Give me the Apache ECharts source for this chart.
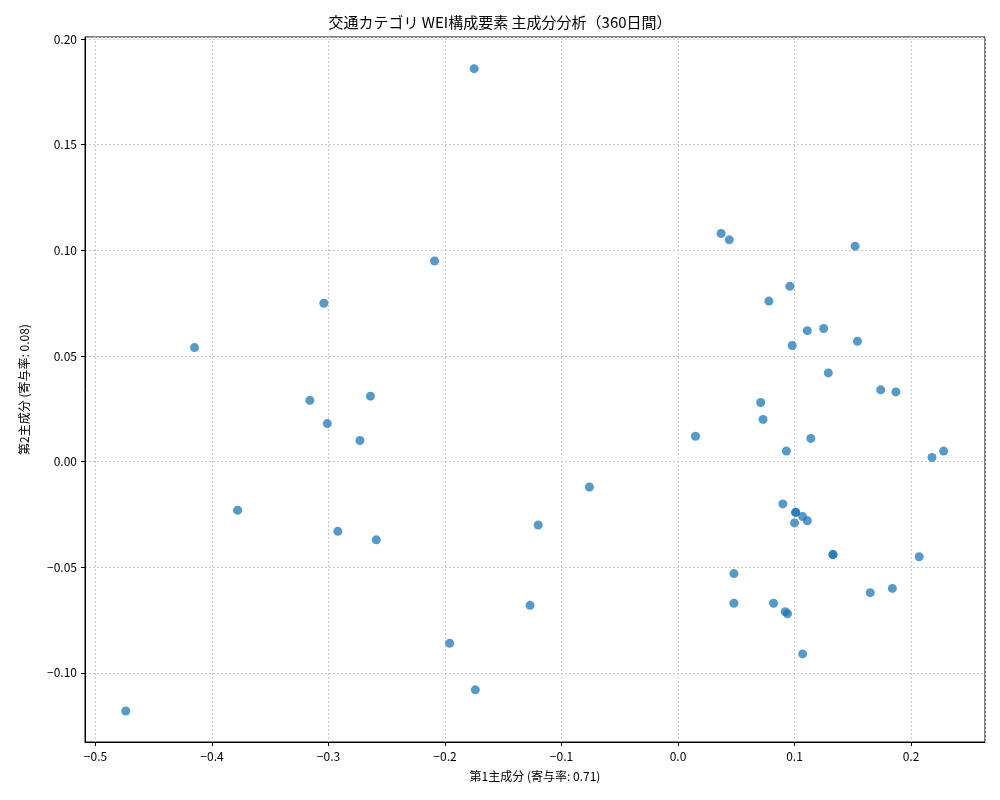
<!DOCTYPE html>
<html><head><meta charset="utf-8">
<script src="https://cdn.jsdelivr.net/npm/echarts@6/dist/echarts.min.js"></script>
<style>html,body{margin:0;background:#fff}#c{width:1000px;height:800px}</style>
</head><body><div id="c"></div>
<script>
const pc1 = [-0.175,-0.209,-0.304,-0.415,-0.316,-0.264,-0.301,-0.273,-0.378,-0.292,-0.259,-0.120,-0.076,-0.127,-0.196,-0.174,-0.474,0.015,0.037,0.044,0.152,0.096,0.078,0.111,0.125,0.098,0.154,0.129,0.071,0.073,0.174,0.187,0.114,0.093,0.218,0.228,0.090,0.101,0.101,0.107,0.111,0.100,0.133,0.133,0.207,0.048,0.048,0.082,0.184,0.165,0.092,0.094,0.107];
const pc2 = [0.186,0.095,0.075,0.054,0.029,0.031,0.018,0.010,-0.023,-0.033,-0.037,-0.030,-0.012,-0.068,-0.086,-0.108,-0.118,0.012,0.108,0.105,0.102,0.083,0.076,0.062,0.063,0.055,0.057,0.042,0.028,0.020,0.034,0.033,0.011,0.005,0.002,0.005,-0.020,-0.024,-0.024,-0.026,-0.028,-0.029,-0.044,-0.044,-0.045,-0.053,-0.067,-0.067,-0.060,-0.062,-0.071,-0.072,-0.091];
const title = '交通カテゴリ WEI構成要素 主成分分析（360日間）';
const xName = '第1主成分 (寄与率: 0.71)';
const yName = '第2主成分 (寄与率: 0.08)';
const F = '"Noto Sans CJK JP","DejaVu Sans",sans-serif';
const fmtX = v => (Math.abs(v)<1e-9?'0.0':(v<0?'−':'') + Math.abs(v).toFixed(1));
const fmtY = v => (Math.abs(v)<1e-9?'0.00':(v<0?'−':'') + Math.abs(v).toFixed(2));
const ax = {
  axisLine:{show:true,onZero:false,lineStyle:{color:'#000'}},
  axisTick:{show:true,length:4,lineStyle:{color:'#000'}},
  splitLine:{show:true,lineStyle:{color:'#c8c8c8',type:[2,2]}},
  nameLocation:'middle', nameTextStyle:{fontFamily:F,fontSize:12,color:'#000'}
};
const chart = echarts.init(document.getElementById('c'));
chart.setOption({
  animation:false,
  title:{text:title,left:'center',top:10,textStyle:{fontFamily:F,fontSize:15,fontWeight:'normal',color:'#000'}},
  grid:{left:85,right:15,top:37,bottom:58,show:true,borderColor:'#000',borderWidth:1},
  xAxis:Object.assign({},ax,{type:'value',min:-0.509,max:0.2635,splitNumber:8,name:xName,nameGap:28,
    axisLabel:{formatter:fmtX,showMinLabel:false,showMaxLabel:false,fontFamily:F,fontSize:12,color:'#000'}}),
  yAxis:Object.assign({},ax,{type:'value',min:-0.1327,max:0.201,splitNumber:7,name:yName,nameGap:55,
    axisLabel:{formatter:fmtY,showMinLabel:false,showMaxLabel:false,fontFamily:F,fontSize:12,color:'#000'}}),
  series:[{type:'scatter',symbolSize:9,data:pc1.map((x,i)=>[x,pc2[i]]),
    itemStyle:{color:'#1f77b4',opacity:0.75}}]
});
</script></body></html>
